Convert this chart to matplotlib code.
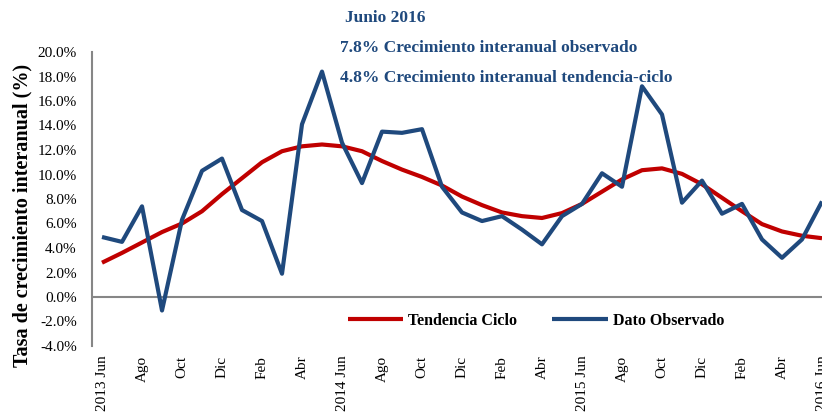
import numpy as np
import matplotlib.pyplot as plt

plt.rcParams['font.family'] = ['Liberation Serif', 'DejaVu Serif']

# monthly data, Jun 2013 .. Jun 2016
observado = [4.9, 4.5, 7.4, -1.1, 6.3, 10.3, 11.3, 7.1, 6.2, 1.9,
             14.1, 18.4, 12.6, 9.3, 13.5, 13.4, 13.7, 9.0, 6.9, 6.2,
             6.6, 5.5, 4.3, 6.6, 7.6, 10.1, 9.0, 17.2, 14.9, 7.7,
             9.5, 6.8, 7.6, 4.7, 3.2, 4.7, 7.8]
tendencia = [2.8, 3.6, 4.45, 5.3, 6.0, 7.0, 8.4, 9.7, 11.0, 11.9,
             12.3, 12.45, 12.3, 11.9, 11.1, 10.4, 9.8, 9.1, 8.2, 7.5,
             6.9, 6.6, 6.45, 6.85, 7.6, 8.6, 9.6, 10.35, 10.5, 10.05,
             9.2, 8.1, 7.0, 5.95, 5.35, 5.0, 4.8]
meses = ["2013 Jun", "Ago", "Oct", "Dic", "Feb", "Abr",
         "2014 Jun", "Ago", "Oct", "Dic", "Feb", "Abr",
         "2015 Jun", "Ago", "Oct", "Dic", "Feb", "Abr", "2016 Jun"]

blue = '#1F497D'
red = '#C00000'
grey = '#868686'

fig = plt.figure(figsize=(8.22, 4.13), dpi=100)
# axes runs a little past the right edge, like the cropped original
ax = fig.add_axes([92 / 822, 1 - 346 / 413, 740 / 822, 294 / 413])

x = np.arange(len(observado))
ax.plot(x, tendencia, color=red, lw=3, label='Tendencia Ciclo', solid_capstyle='butt')
ax.plot(x, observado, color=blue, lw=3, label='Dato Observado', solid_capstyle='butt')

ax.set_xlim(-0.5, 36.5)
ax.set_ylim(-4, 20)
ax.set_yticks(np.arange(-4, 21, 2))
ax.set_yticklabels([f'{v:.1f}%' for v in np.arange(-4, 21, 2)], fontsize=11)
ax.set_xticks(x[::2])
ax.set_xticklabels(meses, rotation=90, fontsize=11, va='top')
ax.tick_params(axis='y', length=0, pad=11)
ax.tick_params(axis='x', length=0, pad=7)

for s in ['top', 'right', 'bottom']:
    ax.spines[s].set_visible(False)
ax.spines['left'].set_color(grey)
ax.spines['left'].set_linewidth(1.5)
ax.axhline(0, color=grey, lw=1.5, zorder=1)

fig.text(0.027, 1 - 215 / 413, 'Tasa de crecimiento interanual (%)', rotation=90,
         fontsize=14.5, fontweight='bold', ha='center', va='center')

ax.legend(loc='center', bbox_to_anchor=(0.6, 0.085), ncol=2, frameon=False,
          handlelength=3.5, columnspacing=2.2, handletextpad=0.3,
          prop={'weight': 'bold', 'size': 11.5})

fig.text(345 / 822, 1 - 18 / 413, 'Junio 2016', color=blue, fontsize=12.5,
         fontweight='bold', va='center')
fig.text(340 / 822, 1 - 48 / 413, '7.8% Crecimiento interanual observado', color=blue,
         fontsize=12.5, fontweight='bold', va='center')
fig.text(340 / 822, 1 - 78 / 413, '4.8% Crecimiento interanual tendencia-ciclo', color=blue,
         fontsize=12.5, fontweight='bold', va='center')

fig.savefig('out.png', dpi=100)
